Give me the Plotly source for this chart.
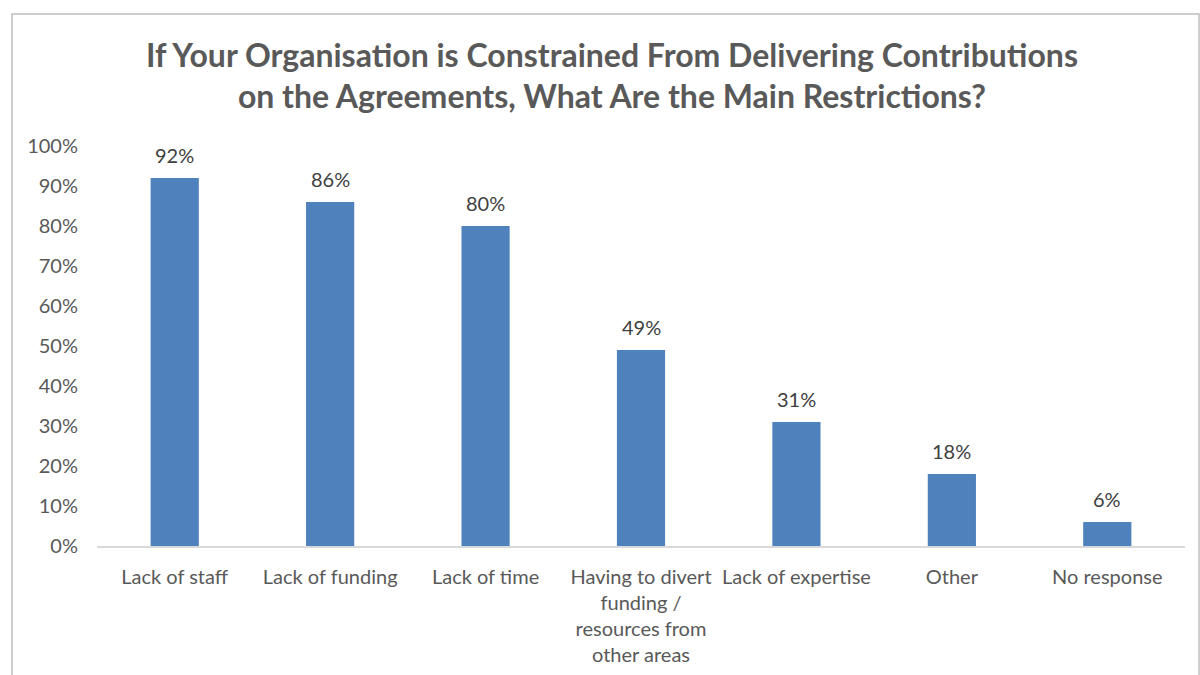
import plotly.graph_objects as go

categories = ["Lack of staff", "Lack of funding", "Lack of time",
              "Having to divert<br>funding /<br>resources from<br>other areas",
              "Lack of expertise", "Other", "No response"]
values = [92, 86, 80, 49, 31, 18, 6]
tick_vals = [0, 10, 20, 30, 40, 50, 60, 70, 80, 90, 100]
tick_text = [f"{v}%" for v in tick_vals]

FONT = "Lato"

fig = go.Figure(go.Bar(
    x=categories, y=values,
    marker=dict(color="#4F81BD", line=dict(width=0)),
    cliponaxis=False, width=0.31,
))

for c, v in zip(categories, values):
    fig.add_annotation(x=c, y=v, text=f"{v}%", showarrow=False,
                       yanchor="bottom", yshift=9,
                       font=dict(family=FONT, size=20, color="#404040"))

fig.update_layout(
    width=1200, height=675,
    margin=dict(l=97, r=15, t=146, b=129),
    paper_bgcolor="white", plot_bgcolor="white",
    showlegend=False,
    title=dict(
        text="If Your Organisation is Constrained From Delivering Contributions<br>on the Agreements, What Are the Main Restrictions?",
        x=0.51, xanchor="center", y=0.901, yanchor="middle",
        font=dict(family=FONT, size=32, color="#595959", weight="bold"),
    ),
    xaxis=dict(showgrid=False, showline=True, linecolor="#D9D9D9", linewidth=1.5,
               tickfont=dict(family=FONT, size=20, color="#595959"),
               ticks="", tickangle=0, ticklabelstandoff=12, automargin=False),
    yaxis=dict(range=[0, 100], tickvals=tick_vals, ticktext=tick_text,
               showgrid=False, zeroline=False, showline=False,
               tickfont=dict(family=FONT, size=20, color="#595959"),
               ticks="", ticklabelstandoff=18, automargin=False),
    shapes=[dict(type="rect", xref="paper", yref="paper",
                 x0=(12 - 97) / 1088, x1=(1199 - 97) / 1088,
                 y0=-0.5, y1=(546 - 14) / 400,
                 line=dict(color="#BFBFBF", width=1.5), fillcolor="rgba(0,0,0,0)",
                 layer="below")],
)

fig.write_html("out.html")
